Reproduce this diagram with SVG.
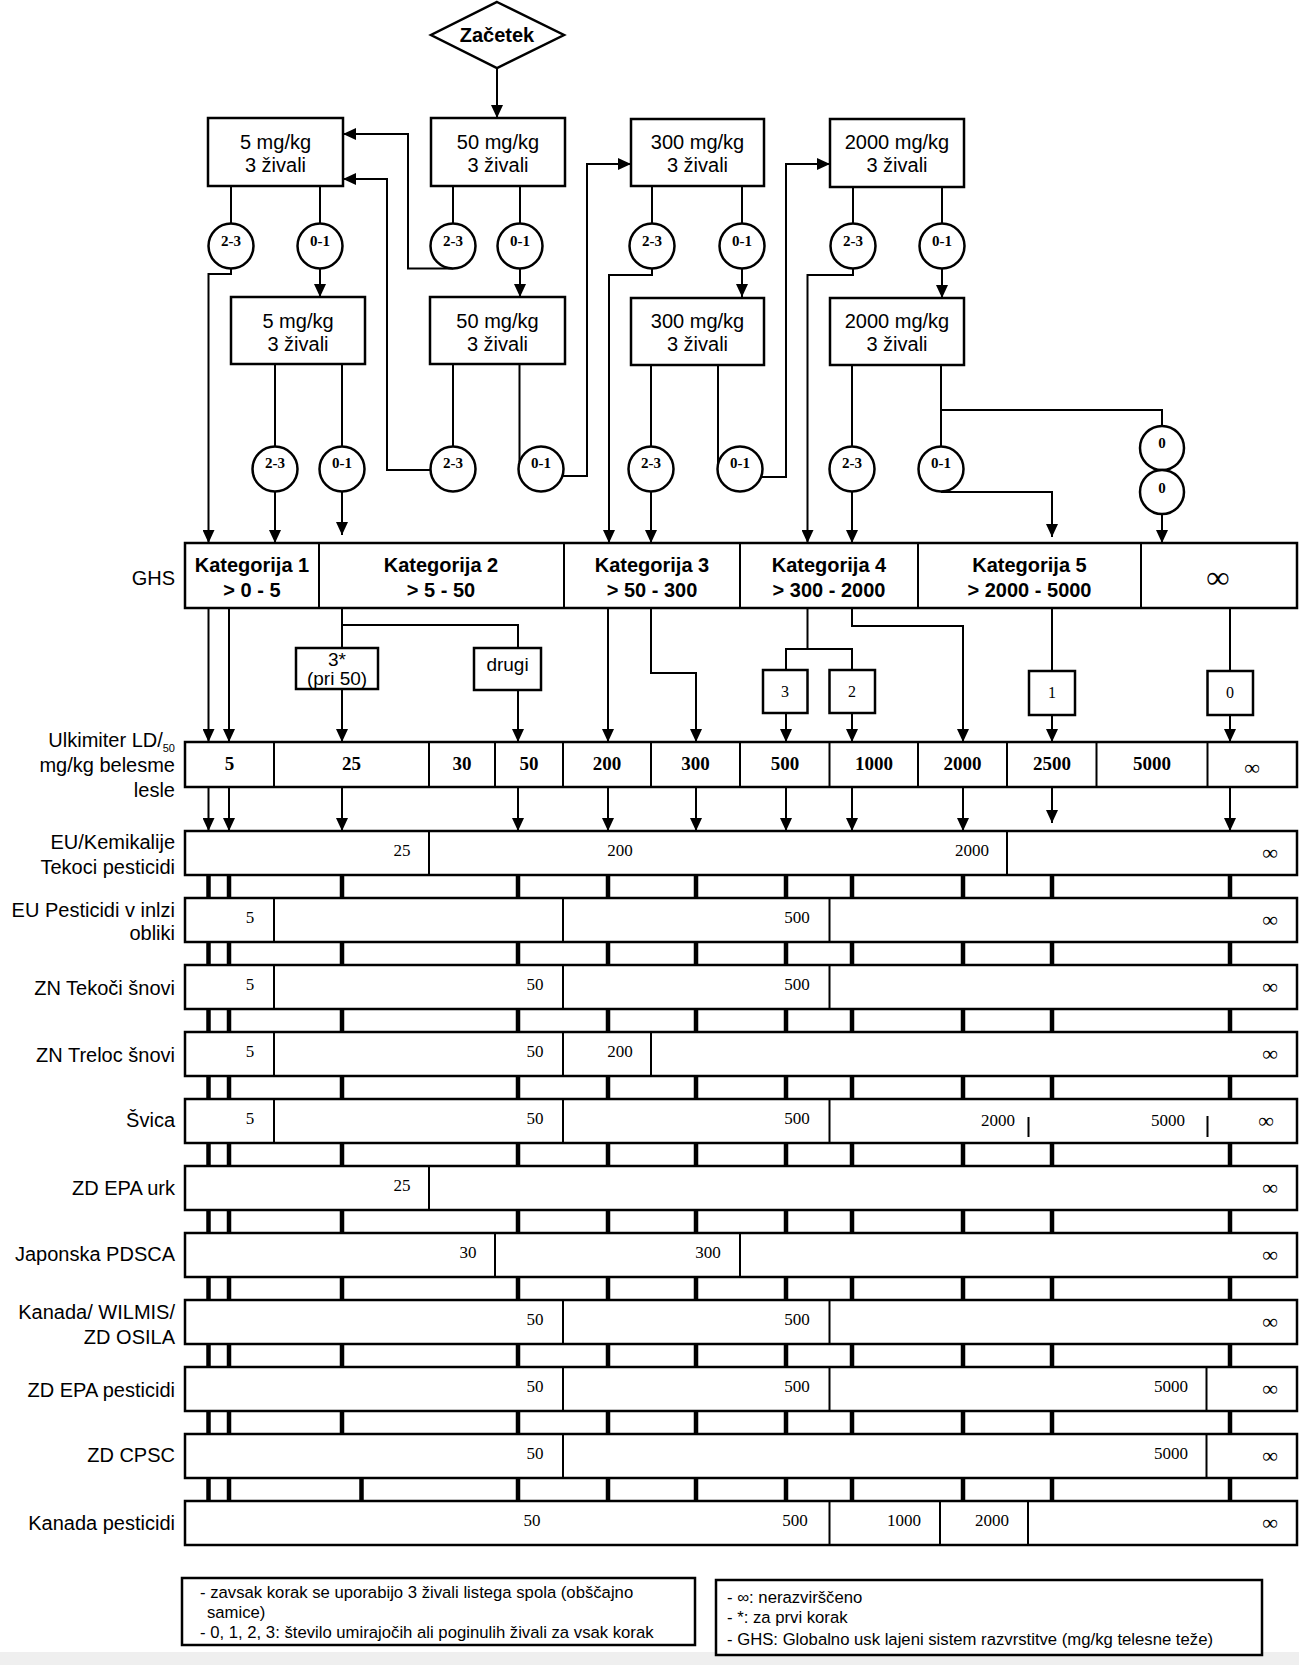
<svg xmlns="http://www.w3.org/2000/svg" width="1299" height="1665" viewBox="0 0 1299 1665">
<defs>
<marker id="ah" markerWidth="13" markerHeight="12" refX="13" refY="6" orient="auto" markerUnits="userSpaceOnUse"><path d="M0,0 L13,6 L0,12 z" fill="#000"/></marker>
<style>
.bx{fill:#fff;stroke:#000;stroke-width:2.5}
.dv{stroke:#000;stroke-width:2;fill:none}
.ln{fill:none;stroke:#000;stroke-width:2}
.ar{marker-end:url(#ah)}
.tk{stroke:#000;stroke-width:4.5}
.t{font-family:"Liberation Sans",Arial,sans-serif;font-size:20px;fill:#000}
.b{font-weight:bold}
.m{text-anchor:middle}
.e{text-anchor:end}
.cl{font-family:"Liberation Serif","Times New Roman",serif;font-weight:bold;font-size:15px;text-anchor:middle}
.ld{font-family:"Liberation Serif","Times New Roman",serif;font-weight:bold;font-size:19px;text-anchor:middle}
.nm{font-family:"Liberation Serif","Times New Roman",serif;font-size:17px;text-anchor:middle}
.inf{font-family:"Liberation Serif","Times New Roman",serif;font-size:22px;text-anchor:middle}
.sb{font-family:"Liberation Serif","Times New Roman",serif;font-size:16px;text-anchor:middle}
.lg{font-family:"Liberation Sans",Arial,sans-serif;font-size:16.7px}
</style>
</defs>
<rect x="0" y="0" width="1299" height="1665" fill="#fff"/>
<rect x="0" y="1652" width="1299" height="13" fill="#efefef"/>

<g id="connectors">
<path class="ln ar" d="M497,68V118"/>
<path class="ln" d="M231,186V223.5M320,186V223.5M453,186V223.5M520,186V223.5M652,186V223.5M742,186V223.5M853,187V223.5M942,187V223.5"/>
<path class="ln ar" d="M320,268.5V297"/>
<path class="ln ar" d="M520,268.5V297"/>
<path class="ln ar" d="M742,268.5V297"/>
<path class="ln ar" d="M942,268.5V298"/>
<path class="ln ar" d="M231,268.5V274H208.5V543"/>
<path class="ln ar" d="M453,268.5H408V134H343"/>
<path class="ln ar" d="M652,268.5V275H609V543"/>
<path class="ln ar" d="M853,268.5V275H807.5V543"/>
<path class="ln" d="M275,364V446.5M342,364V446.5M453,364V446.5M519.5,364V462M651,365V446.5M718,365V464M852,365V446.5M941,365V446.5M941,410H1162V426"/>
<path class="ln ar" d="M275,491.5V543"/>
<path class="ln ar" d="M342,491.5V535"/>
<path class="ln ar" d="M430.5,470H387V179H343"/>
<path class="ln ar" d="M562,476H587V164H631"/>
<path class="ln ar" d="M651,491.5V543"/>
<path class="ln ar" d="M761,477H786V164H830"/>
<path class="ln ar" d="M852,491.5V543"/>
<path class="ln ar" d="M941,492H1052V537"/>
<path class="ln ar" d="M1162,514V543"/>

<path class="ln ar" d="M208.5,608V742"/>
<path class="ln ar" d="M229,608V742"/>
<path class="ln" d="M342,608V648M342,625H518V648"/>
<path class="ln ar" d="M342,689V742"/>
<path class="ln ar" d="M518,690V742"/>
<path class="ln ar" d="M608,608V742"/>
<path class="ln ar" d="M651,608V673H696V742"/>
<path class="ln" d="M807.5,608V649M786,670V649H852V670"/>
<path class="ln ar" d="M786,713V742"/>
<path class="ln ar" d="M852,713V742"/>
<path class="ln ar" d="M852,608V626H963V742"/>
<path class="ln" d="M1052,608V671M1230,608V671"/>
<path class="ln ar" d="M1052,715V742"/>
<path class="ln ar" d="M1230,715V742"/>

<path class="ln ar" d="M208.5,787V831"/>
<path class="ln ar" d="M229,787V831"/>
<path class="ln ar" d="M342,787V831"/>
<path class="ln ar" d="M518,787V831"/>
<path class="ln ar" d="M608,787V831"/>
<path class="ln ar" d="M696,787V831"/>
<path class="ln ar" d="M786,787V831"/>
<path class="ln ar" d="M852,787V831"/>
<path class="ln ar" d="M963,787V831"/>
<path class="ln ar" d="M1052,787V823"/>
<path class="ln ar" d="M1230,787V831"/>

<path class="tk" d="M208.5,875V898M229,875V898M342,875V898M518,875V898M608,875V898M696,875V898M786,875V898M852,875V898M963,875V898M1052,875V898M1230,875V898"/>
<path class="tk" d="M208.5,942V965M229,942V965M342,942V965M518,942V965M608,942V965M696,942V965M786,942V965M852,942V965M963,942V965M1052,942V965M1230,942V965"/>
<path class="tk" d="M208.5,1009V1032M229,1009V1032M342,1009V1032M518,1009V1032M608,1009V1032M696,1009V1032M786,1009V1032M852,1009V1032M963,1009V1032M1052,1009V1032M1230,1009V1032"/>
<path class="tk" d="M208.5,1076V1099M229,1076V1099M342,1076V1099M518,1076V1099M608,1076V1099M696,1076V1099M786,1076V1099M852,1076V1099M963,1076V1099M1052,1076V1099M1230,1076V1099"/>
<path class="tk" d="M208.5,1143V1166M229,1143V1166M342,1143V1166M518,1143V1166M608,1143V1166M696,1143V1166M786,1143V1166M852,1143V1166M963,1143V1166M1052,1143V1166M1230,1143V1166"/>
<path class="tk" d="M208.5,1210V1233M229,1210V1233M342,1210V1233M518,1210V1233M608,1210V1233M696,1210V1233M786,1210V1233M852,1210V1233M963,1210V1233M1052,1210V1233M1230,1210V1233"/>
<path class="tk" d="M208.5,1277V1300M229,1277V1300M342,1277V1300M518,1277V1300M608,1277V1300M696,1277V1300M786,1277V1300M852,1277V1300M963,1277V1300M1052,1277V1300M1230,1277V1300"/>
<path class="tk" d="M208.5,1344V1367M229,1344V1367M342,1344V1367M518,1344V1367M608,1344V1367M696,1344V1367M786,1344V1367M852,1344V1367M963,1344V1367M1052,1344V1367M1230,1344V1367"/>
<path class="tk" d="M208.5,1411V1434M229,1411V1434M342,1411V1434M518,1411V1434M608,1411V1434M696,1411V1434M786,1411V1434M852,1411V1434M963,1411V1434M1052,1411V1434M1230,1411V1434"/>
<path class="tk" d="M208.5,1478V1501M229,1478V1501M361.5,1478V1501M518,1478V1501M608,1478V1501M696,1478V1501M786,1478V1501M852,1478V1501M963,1478V1501M1052,1478V1501M1230,1478V1501"/>
</g>

<g id="start"><polygon class="bx" points="497,2 564,35 497,68 431,35"/><text class="t b m" x="497" y="42">Začetek</text></g>

<g id="box-5-a"><rect class="bx" x="208" y="118" width="135" height="68"/><text class="t m" x="275.5" y="149">5 mg/kg</text><text class="t m" x="275.5" y="172">3 živali</text></g>
<g id="box-50-a"><rect class="bx" x="431" y="118" width="134" height="68"/><text class="t m" x="498" y="149">50 mg/kg</text><text class="t m" x="498" y="172">3 živali</text></g>
<g id="box-300-a"><rect class="bx" x="631" y="119" width="133" height="67"/><text class="t m" x="697.5" y="149">300 mg/kg</text><text class="t m" x="697.5" y="172">3 živali</text></g>
<g id="box-2000-a"><rect class="bx" x="830" y="119" width="134" height="68"/><text class="t m" x="897" y="149">2000 mg/kg</text><text class="t m" x="897" y="172">3 živali</text></g>

<g id="box-5-b"><rect class="bx" x="231" y="297" width="134" height="67"/><text class="t m" x="298" y="328">5 mg/kg</text><text class="t m" x="298" y="351">3 živali</text></g>
<g id="box-50-b"><rect class="bx" x="430" y="297" width="135" height="67"/><text class="t m" x="497.5" y="328">50 mg/kg</text><text class="t m" x="497.5" y="351">3 živali</text></g>
<g id="box-300-b"><rect class="bx" x="631" y="298" width="133" height="67"/><text class="t m" x="697.5" y="328">300 mg/kg</text><text class="t m" x="697.5" y="351">3 živali</text></g>
<g id="box-2000-b"><rect class="bx" x="830" y="298" width="134" height="67"/><text class="t m" x="897" y="328">2000 mg/kg</text><text class="t m" x="897" y="351">3 živali</text></g>

<g id="c-a1-23"><circle class="bx" cx="231" cy="246" r="22.5"/><text class="cl" x="231" y="246">2-3</text></g>
<g id="c-a1-01"><circle class="bx" cx="320" cy="246" r="22.5"/><text class="cl" x="320" y="246">0-1</text></g>
<g id="c-b1-23"><circle class="bx" cx="453" cy="246" r="22.5"/><text class="cl" x="453" y="246">2-3</text></g>
<g id="c-b1-01"><circle class="bx" cx="520" cy="246" r="22.5"/><text class="cl" x="520" y="246">0-1</text></g>
<g id="c-c1-23"><circle class="bx" cx="652" cy="246" r="22.5"/><text class="cl" x="652" y="246">2-3</text></g>
<g id="c-c1-01"><circle class="bx" cx="742" cy="246" r="22.5"/><text class="cl" x="742" y="246">0-1</text></g>
<g id="c-d1-23"><circle class="bx" cx="853" cy="246" r="22.5"/><text class="cl" x="853" y="246">2-3</text></g>
<g id="c-d1-01"><circle class="bx" cx="942" cy="246" r="22.5"/><text class="cl" x="942" y="246">0-1</text></g>

<g id="c-a2-23"><circle class="bx" cx="275" cy="469" r="22.5"/><text class="cl" x="275" y="468">2-3</text></g>
<g id="c-a2-01"><circle class="bx" cx="342" cy="469" r="22.5"/><text class="cl" x="342" y="468">0-1</text></g>
<g id="c-b2-23"><circle class="bx" cx="453" cy="469" r="22.5"/><text class="cl" x="453" y="468">2-3</text></g>
<g id="c-b2-01"><circle class="bx" cx="541" cy="469" r="22.5"/><text class="cl" x="541" y="468">0-1</text></g>
<g id="c-c2-23"><circle class="bx" cx="651" cy="469" r="22.5"/><text class="cl" x="651" y="468">2-3</text></g>
<g id="c-c2-01"><circle class="bx" cx="740" cy="469" r="22.5"/><text class="cl" x="740" y="468">0-1</text></g>
<g id="c-d2-23"><circle class="bx" cx="852" cy="469" r="22.5"/><text class="cl" x="852" y="468">2-3</text></g>
<g id="c-d2-01"><circle class="bx" cx="941" cy="469" r="22.5"/><text class="cl" x="941" y="468">0-1</text></g>

<g id="c-zero-1"><circle class="bx" cx="1162" cy="448" r="22"/><text class="cl" x="1162" y="448">0</text></g>
<g id="c-zero-2"><circle class="bx" cx="1162" cy="492" r="22"/><text class="cl" x="1162" y="493">0</text></g>

<g id="ghs">
<text class="t e" x="175" y="585">GHS</text>
<rect class="bx" x="185" y="543" width="1112" height="65"/>
<path class="dv" d="M319,543V608M564,543V608M740,543V608M918,543V608M1141,543V608"/>
<text class="t b m" x="252" y="572">Kategorija 1</text><text class="t b m" x="252" y="597">&gt; 0 - 5</text>
<text class="t b m" x="441" y="572">Kategorija 2</text><text class="t b m" x="441" y="597">&gt; 5 - 50</text>
<text class="t b m" x="652" y="572">Kategorija 3</text><text class="t b m" x="652" y="597">&gt; 50 - 300</text>
<text class="t b m" x="829" y="572">Kategorija 4</text><text class="t b m" x="829" y="597">&gt; 300 - 2000</text>
<text class="t b m" x="1029.5" y="572">Kategorija 5</text><text class="t b m" x="1029.5" y="597">&gt; 2000 - 5000</text>
<text class="inf b" x="1218" y="588" style="font-size:32px">∞</text>
</g>

<g id="box-3star"><rect class="bx" x="296" y="648" width="82" height="41"/><text class="t m" x="337" y="666" style="font-size:19px">3*</text><text class="t m" x="337" y="685" style="font-size:19px">(pri 50)</text></g>
<g id="box-drugi"><rect class="bx" x="474" y="648" width="67" height="42"/><text class="t m" x="507.5" y="671" style="font-size:19px">drugi</text></g>
<g id="box-n3"><rect class="bx" x="763" y="670" width="44.5" height="43"/><text class="sb" x="785" y="697">3</text></g>
<g id="box-n2"><rect class="bx" x="829.5" y="670" width="45.5" height="43"/><text class="sb" x="852" y="697">2</text></g>
<g id="box-n1"><rect class="bx" x="1029" y="671" width="46" height="44"/><text class="sb" x="1052" y="698">1</text></g>
<g id="box-n0"><rect class="bx" x="1207.5" y="671" width="45.5" height="44"/><text class="sb" x="1230" y="698">0</text></g>

<g id="ld50">
<text class="t e" x="175" y="747">Ulkimiter LD/<tspan style="font-size:11px" dy="5">50</tspan></text>
<text class="t e" x="175" y="772">mg/kg belesme</text>
<text class="t e" x="175" y="797">lesle</text>
<rect class="bx" x="185" y="742" width="1112" height="45"/>
<path class="dv" d="M274,742V787M429,742V787M495,742V787M563,742V787M651,742V787M740,742V787M829.5,742V787M918,742V787M1007,742V787M1096.5,742V787M1207.5,742V787"/>
<text class="ld" x="229.5" y="770">5</text>
<text class="ld" x="351.5" y="770">25</text>
<text class="ld" x="462" y="770">30</text>
<text class="ld" x="529" y="770">50</text>
<text class="ld" x="607" y="770">200</text>
<text class="ld" x="695.5" y="770">300</text>
<text class="ld" x="785" y="770">500</text>
<text class="ld" x="874" y="770">1000</text>
<text class="ld" x="962.5" y="770">2000</text>
<text class="ld" x="1052" y="770">2500</text>
<text class="ld" x="1152" y="770">5000</text>
<text class="inf" x="1252" y="775">∞</text>
</g>

<g id="row-eu-kemikalije">
<rect class="bx" x="185" y="831" width="1112" height="44"/>
<path class="dv" d="M429,831V875M1007,831V875"/>
<text class="t e" x="175" y="849">EU/Kemikalije</text>
<text class="t e" x="175" y="874">Tekoci pesticidi</text>
<text class="nm" x="402" y="856">25</text><text class="nm" x="620" y="856">200</text><text class="nm" x="972" y="856">2000</text><text class="inf" x="1270" y="860">∞</text>
</g>
<g id="row-eu-pesticidi">
<rect class="bx" x="185" y="898" width="1112" height="44"/>
<path class="dv" d="M274,898V942M563,898V942M829.5,898V942"/>
<text class="t e" x="175" y="917">EU Pesticidi v inlzi</text>
<text class="t e" x="175" y="940">obliki</text>
<text class="nm" x="250" y="923">5</text><text class="nm" x="797" y="923">500</text><text class="inf" x="1270" y="927">∞</text>
</g>
<g id="row-zn-tekoci">
<rect class="bx" x="185" y="965" width="1112" height="44"/>
<path class="dv" d="M274,965V1009M563,965V1009M829.5,965V1009"/>
<text class="t e" x="175" y="995">ZN Tekoči šnovi</text>
<text class="nm" x="250" y="990">5</text><text class="nm" x="535" y="990">50</text><text class="nm" x="797" y="990">500</text><text class="inf" x="1270" y="994">∞</text>
</g>
<g id="row-zn-treloc">
<rect class="bx" x="185" y="1032" width="1112" height="44"/>
<path class="dv" d="M274,1032V1076M563,1032V1076M651,1032V1076"/>
<text class="t e" x="175" y="1062">ZN Treloc šnovi</text>
<text class="nm" x="250" y="1057">5</text><text class="nm" x="535" y="1057">50</text><text class="nm" x="620" y="1057">200</text><text class="inf" x="1270" y="1061">∞</text>
</g>
<g id="row-svica">
<rect class="bx" x="185" y="1099" width="1112" height="44"/>
<path class="dv" d="M274,1099V1143M563,1099V1143M829.5,1099V1143M1028.5,1117V1137M1207.5,1116V1137"/>
<text class="t e" x="175" y="1127">Švica</text>
<text class="nm" x="250" y="1124">5</text><text class="nm" x="535" y="1124">50</text><text class="nm" x="797" y="1124">500</text><text class="nm" x="998" y="1126">2000</text><text class="nm" x="1168" y="1126">5000</text><text class="inf" x="1266" y="1128">∞</text>
</g>
<g id="row-zd-epa-urk">
<rect class="bx" x="185" y="1166" width="1112" height="44"/>
<path class="dv" d="M429,1166V1210"/>
<text class="t e" x="175" y="1195">ZD EPA urk</text>
<text class="nm" x="402" y="1191">25</text><text class="inf" x="1270" y="1195">∞</text>
</g>
<g id="row-japonska">
<rect class="bx" x="185" y="1233" width="1112" height="44"/>
<path class="dv" d="M495,1233V1277M740,1233V1277"/>
<text class="t e" x="175" y="1261">Japonska PDSCA</text>
<text class="nm" x="468" y="1258">30</text><text class="nm" x="708" y="1258">300</text><text class="inf" x="1270" y="1262">∞</text>
</g>
<g id="row-kanada-wilmis">
<rect class="bx" x="185" y="1300" width="1112" height="44"/>
<path class="dv" d="M563,1300V1344M829.5,1300V1344"/>
<text class="t e" x="175" y="1319">Kanada/ WILMIS/</text>
<text class="t e" x="175" y="1344">ZD OSILA</text>
<text class="nm" x="535" y="1325">50</text><text class="nm" x="797" y="1325">500</text><text class="inf" x="1270" y="1329">∞</text>
</g>
<g id="row-zd-epa-pesticidi">
<rect class="bx" x="185" y="1367" width="1112" height="44"/>
<path class="dv" d="M563,1367V1411M829.5,1367V1411M1206.5,1367V1411"/>
<text class="t e" x="175" y="1397">ZD EPA pesticidi</text>
<text class="nm" x="535" y="1392">50</text><text class="nm" x="797" y="1392">500</text><text class="nm" x="1171" y="1392">5000</text><text class="inf" x="1270" y="1396">∞</text>
</g>
<g id="row-zd-cpsc">
<rect class="bx" x="185" y="1434" width="1112" height="44"/>
<path class="dv" d="M563,1434V1478M1206.5,1434V1478"/>
<text class="t e" x="175" y="1462">ZD CPSC</text>
<text class="nm" x="535" y="1459">50</text><text class="nm" x="1171" y="1459">5000</text><text class="inf" x="1270" y="1463">∞</text>
</g>
<g id="row-kanada-pesticidi">
<rect class="bx" x="185" y="1501" width="1112" height="44"/>
<path class="dv" d="M829.5,1501V1545M940,1501V1545M1028,1501V1545"/>
<text class="t e" x="175" y="1530">Kanada pesticidi</text>
<text class="nm" x="532" y="1526">50</text><text class="nm" x="795" y="1526">500</text><text class="nm" x="904" y="1526">1000</text><text class="nm" x="992" y="1526">2000</text><text class="inf" x="1270" y="1530">∞</text>
</g>

<g id="legend-left">
<rect class="bx" x="182" y="1578" width="513" height="67"/>
<text class="lg" x="200" y="1598">- zavsak korak se uporabijo 3 živali listega spola (obščajno</text>
<text class="lg" x="207" y="1618">samice)</text>
<text class="lg" x="200" y="1638">- 0, 1, 2, 3: število umirajočih ali poginulih živali za vsak korak</text>
</g>
<g id="legend-right">
<rect class="bx" x="716" y="1580" width="546" height="75"/>
<text class="lg" x="727" y="1603">- ∞: nerazvirščeno</text>
<text class="lg" x="727" y="1623">- *: za prvi korak</text>
<text class="lg" x="727" y="1645">- GHS: Globalno usk lajeni sistem razvrstitve (mg/kg telesne teže)</text>
</g>
</svg>
